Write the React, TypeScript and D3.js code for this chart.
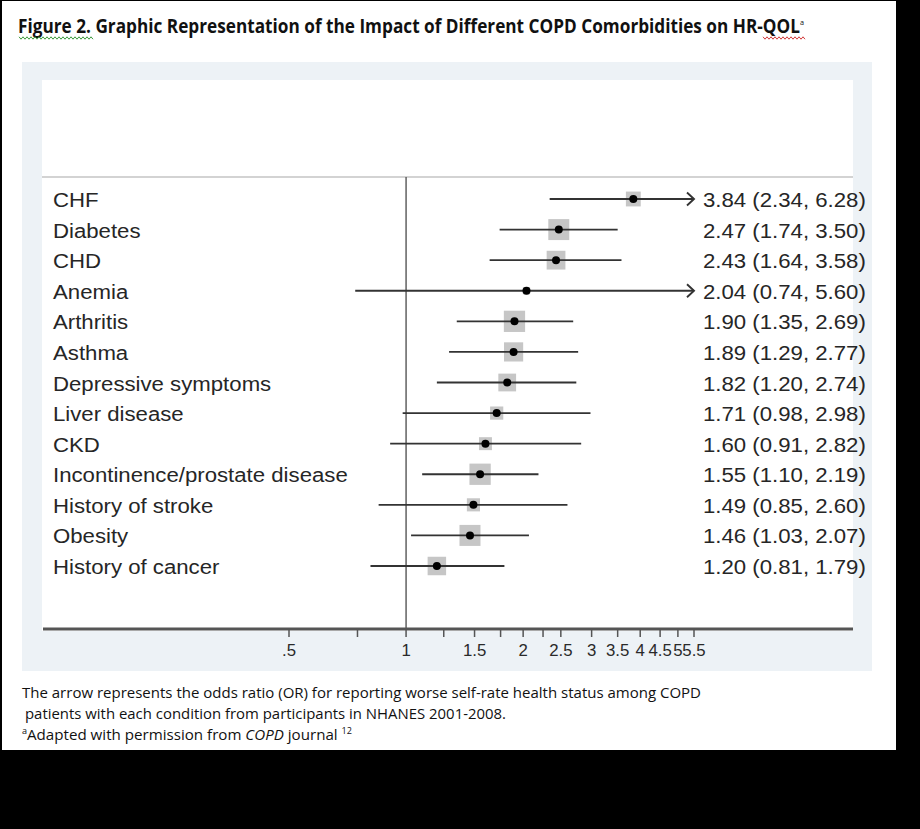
import React from "react";
import * as d3 from "d3";

const categories = [
  "CHF",
  "Diabetes",
  "CHD",
  "Anemia",
  "Arthritis",
  "Asthma",
  "Depressive symptoms",
  "Liver disease",
  "CKD",
  "Incontinence/prostate disease",
  "History of stroke",
  "Obesity",
  "History of cancer",
];
const oddsRatio = [3.84, 2.47, 2.43, 2.04, 1.9, 1.89, 1.82, 1.71, 1.6, 1.55, 1.49, 1.46, 1.2];
const ciLower = [2.34, 1.74, 1.64, 0.74, 1.35, 1.29, 1.2, 0.98, 0.91, 1.1, 0.85, 1.03, 0.81];
const ciUpper = [6.28, 3.5, 3.58, 5.6, 2.69, 2.77, 2.74, 2.98, 2.82, 2.19, 2.6, 2.07, 1.79];

const tickValues = [0.5, 0.75, 1, 1.25, 1.5, 1.75, 2, 2.25, 2.5, 3, 3.5, 4, 4.5, 5, 5.5];
const tickLabels = [".5", "", "1", "", "1.5", "", "2", "", "2.5", "3", "3.5", "4", "4.5", "5", "5.5"];

const W = 920;
const H = 829;

function zigzag(x0: number, x1: number, y: number) {
  const pts: [number, number][] = [];
  let up = true;
  for (let x = x0; x <= x1; x += 2) {
    pts.push([x, up ? y - 1.2 : y + 1.2]);
    up = !up;
  }
  return d3.line()(pts) || "";
}

export default function App() {
  const x = d3.scaleLog().domain([0.5, 5.5]).range([289, 694]);
  const y = d3.scalePoint<string>().domain(categories).range([199, 566]);
  const [xMin, xMax] = x.domain();
  const font = "'Liberation Sans', Arial, Helvetica, sans-serif";
  const capFont = "'Open Sans', 'Noto Sans', sans-serif";
  const sx = 1.057;

  const rows = categories.map((c, i) => {
    const se = (Math.log(ciUpper[i]) - Math.log(ciLower[i])) / 3.92;
    return {
      c,
      or: oddsRatio[i],
      lo: ciLower[i],
      hi: ciUpper[i],
      side: 3.74 / se,
    };
  });

  return (
    <svg
      width={W}
      height={H}
      viewBox={`0 0 ${W} ${H}`}
      style={{ position: "absolute", left: 0, top: 0, display: "block" }}
    >
      <rect x={0} y={0} width={W} height={H} fill="#000" />
      <rect x={2} y={1} width={894} height={749} fill="#fff" />

      {/* title */}
      <text
        x={18}
        y={33}
        fontFamily={capFont}
        fontWeight="bold"
        fontSize={19}
        fill="#111"
        textLength={786}
        lengthAdjust="spacingAndGlyphs"
      >
        <tspan>Figure 2. Graphic Representation of the Impact of Different COPD Comorbidities on HR-QOL</tspan>
        <tspan fontSize={8} fontWeight="normal" dy={-8}>a</tspan>
      </text>
      <path d={zigzag(19, 93, 38)} fill="none" stroke="#3c9a3c" strokeWidth={1} />
      <path d={zigzag(763, 806, 38)} fill="none" stroke="#d23a3a" strokeWidth={1} />

      {/* graph region */}
      <rect x={22} y={62} width={850} height={609} fill="#edf2f6" />
      <rect x={42} y={80} width={811} height={551} fill="#fff" />

      {/* top separator line */}
      <line x1={42} x2={853} y1={177} y2={177} stroke="#c4c4c4" strokeWidth={1.5} />
      {/* null line at OR = 1 */}
      <line x1={x(1)} x2={x(1)} y1={177} y2={629} stroke="#555" strokeWidth={1.4} />

      {/* rows */}
      {rows.map((r) => {
        const yy = y(r.c)!;
        const lo = Math.max(r.lo, xMin);
        const hi = Math.min(r.hi, xMax);
        const xl = x(lo);
        const xh = x(hi);
        return (
          <g key={r.c}>
            <rect
              x={x(r.or) - r.side / 2}
              y={yy - r.side / 2}
              width={r.side}
              height={r.side}
              fill="#c6c6c6"
            />
            <line x1={xl} x2={xh} y1={yy} y2={yy} stroke="#333" strokeWidth={1.9} />
            {r.hi > xMax && (
              <path
                d={`M${xh - 7},${yy - 6.5}L${xh},${yy}L${xh - 7},${yy + 6.5}`}
                fill="none"
                stroke="#333"
                strokeWidth={1.9}
              />
            )}
            {r.lo < xMin && (
              <path
                d={`M${xl + 7},${yy - 6.5}L${xl},${yy}L${xl + 7},${yy + 6.5}`}
                fill="none"
                stroke="#333"
                strokeWidth={1.9}
              />
            )}
            <circle cx={x(r.or)} cy={yy} r={4} fill="#000" />
            <text
              transform={`translate(53,${yy + 8}) scale(${sx},1)`}
              fontFamily={font}
              fontSize={21}
              fill="#262626"
            >
              {r.c}
            </text>
            <text
              transform={`translate(703,${yy + 8}) scale(${sx},1)`}
              fontFamily={font}
              fontSize={21}
              fill="#262626"
            >
              {`${d3.format(".2f")(r.or)} (${d3.format(".2f")(r.lo)}, ${d3.format(".2f")(r.hi)})`}
            </text>
          </g>
        );
      })}

      {/* x axis */}
      <line x1={43} x2={853} y1={629} y2={629} stroke="#555" strokeWidth={3} />
      {tickValues.map((t, i) => (
        <g key={t}>
          <line x1={x(t)} x2={x(t)} y1={629} y2={637} stroke="#555" strokeWidth={1.5} />
          {tickLabels[i] && (
            <text
              transform={`translate(${x(t)},656) scale(1.05,1)`}
              textAnchor="middle"
              fontFamily={font}
              fontSize={16}
              fill="#2a2a2a"
            >
              {tickLabels[i]}
            </text>
          )}
        </g>
      ))}

      {/* caption */}
      <text
        x={22}
        y={698}
        fontFamily={capFont}
        fontSize={15}
        fill="#111"
        textLength={679}
        lengthAdjust="spacingAndGlyphs"
      >
        The arrow represents the odds ratio (OR) for reporting worse self-rate health status among COPD
      </text>
      <text
        x={25}
        y={719}
        fontFamily={capFont}
        fontSize={15}
        fill="#111"
        textLength={481}
        lengthAdjust="spacingAndGlyphs"
      >
        patients with each condition from participants in NHANES 2001-2008.
      </text>
      <text
        x={22}
        y={740}
        fontFamily={capFont}
        fontSize={15}
        fill="#111"
        textLength={330}
        lengthAdjust="spacingAndGlyphs"
      >
        <tspan fontSize={9} dy={-6}>a</tspan>
        <tspan dy={6}>Adapted with permission from </tspan>
        <tspan fontStyle="italic">COPD</tspan>
        <tspan> journal </tspan>
        <tspan fontSize={9} dy={-6}>12</tspan>
      </text>
    </svg>
  );
}
